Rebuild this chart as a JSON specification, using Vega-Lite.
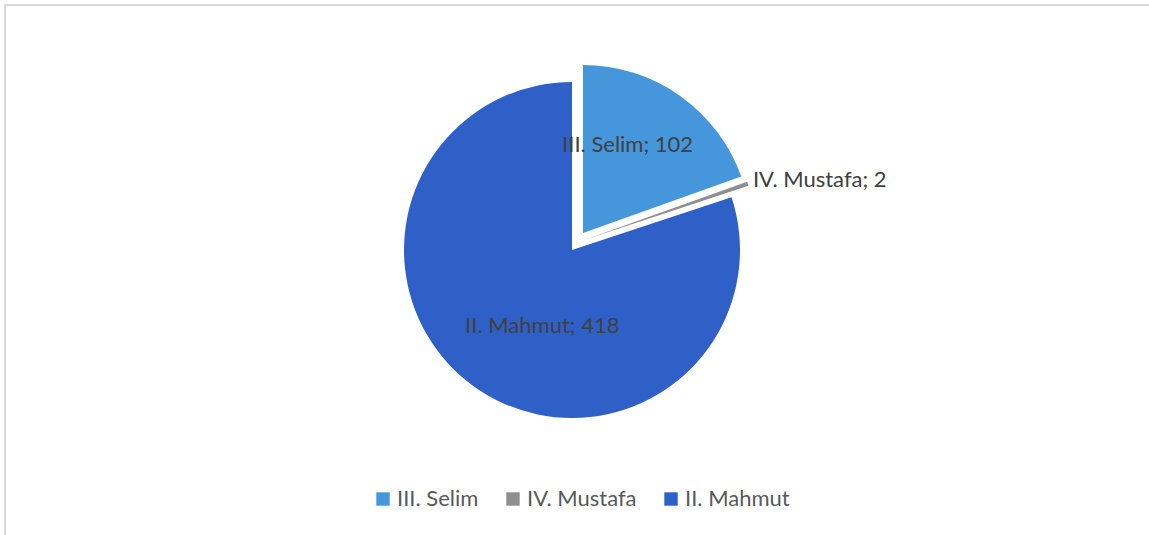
{
  "$schema": "https://vega.github.io/schema/vega-lite/v6.json",
  "width": 1149,
  "height": 535,
  "autosize": {"type": "fit", "contains": "padding"},
  "padding": {"left": 5, "top": 5, "right": -4, "bottom": -4},
  "background": "white",
  "view": {"stroke": "#d9d9d9", "strokeWidth": 2, "fill": "white"},
  "config": {"view": {"stroke": "#d9d9d9", "strokeWidth": 2}},
  "data": {
    "values": [
      {"sultan": "III. Selim", "count": 102, "k": 1, "label": "III. Selim; 102"},
      {"sultan": "IV. Mustafa", "count": 2, "k": 2, "label": "IV. Mustafa; 2"},
      {"sultan": "II. Mahmut", "count": 418, "k": 3, "label": "II. Mahmut; 418"}
    ]
  },
  "encoding": {
    "theta": {"field": "count", "type": "quantitative", "stack": true},
    "order": {"field": "k", "type": "quantitative"},
    "color": {
      "field": "sultan",
      "type": "nominal",
      "scale": {
        "domain": ["III. Selim", "IV. Mustafa", "II. Mahmut"],
        "range": ["#4696dc", "#8f8f8f", "#2e60c8"]
      },
      "legend": {
        "orient": "none",
        "direction": "horizontal",
        "legendX": 367,
        "legendY": 483,
        "title": null,
        "symbolType": "square",
        "symbolSize": 180,
        "symbolStrokeWidth": 0,
        "symbolOpacity": 1,
        "labelFont": "Lato",
        "labelFontSize": 22,
        "labelColor": "#595959",
        "labelOffset": 3,
        "columnPadding": 23
      }
    }
  },
  "layer": [
    {
      "mark": {"type": "arc", "radius": 168, "xOffset": -7, "yOffset": -22},
      "encoding": {"opacity": {"condition": {"test": "datum.sultan === 'II. Mahmut'", "value": 1}, "value": 0}}
    },
    {
      "mark": {"type": "arc", "radius": 168, "xOffset": 4, "yOffset": -39},
      "encoding": {"opacity": {"condition": {"test": "datum.sultan === 'III. Selim'", "value": 1}, "value": 0}}
    },
    {
      "mark": {"type": "arc", "radius": 170, "xOffset": 8, "yOffset": -33},
      "encoding": {"opacity": {"condition": {"test": "datum.sultan === 'IV. Mustafa'", "value": 1}, "value": 0}}
    },
    {
      "mark": {"type": "text", "radius": 100, "xOffset": 4, "yOffset": -39, "dx": -13, "dy": -6, "font": "Lato", "fontSize": 22, "baseline": "middle", "align": "center"},
      "encoding": {
        "text": {"field": "label"},
        "color": {"value": "#404040"},
        "opacity": {"condition": {"test": "datum.sultan === 'III. Selim'", "value": 1}, "value": 0}
      }
    },
    {
      "mark": {"type": "text", "radius": 185, "xOffset": -7, "yOffset": -22, "dx": 6, "dy": -10, "font": "Lato", "fontSize": 22, "baseline": "middle", "align": "left"},
      "encoding": {
        "text": {"field": "label"},
        "color": {"value": "#404040"},
        "opacity": {"condition": {"test": "datum.sultan === 'IV. Mustafa'", "value": 1}, "value": 0}
      }
    },
    {
      "mark": {"type": "text", "radius": 90, "xOffset": -7, "yOffset": -22, "dx": 23, "dy": 3, "font": "Lato", "fontSize": 22, "baseline": "middle", "align": "center"},
      "encoding": {
        "text": {"field": "label"},
        "color": {"value": "#404040"},
        "opacity": {"condition": {"test": "datum.sultan === 'II. Mahmut'", "value": 1}, "value": 0}
      }
    }
  ]
}
